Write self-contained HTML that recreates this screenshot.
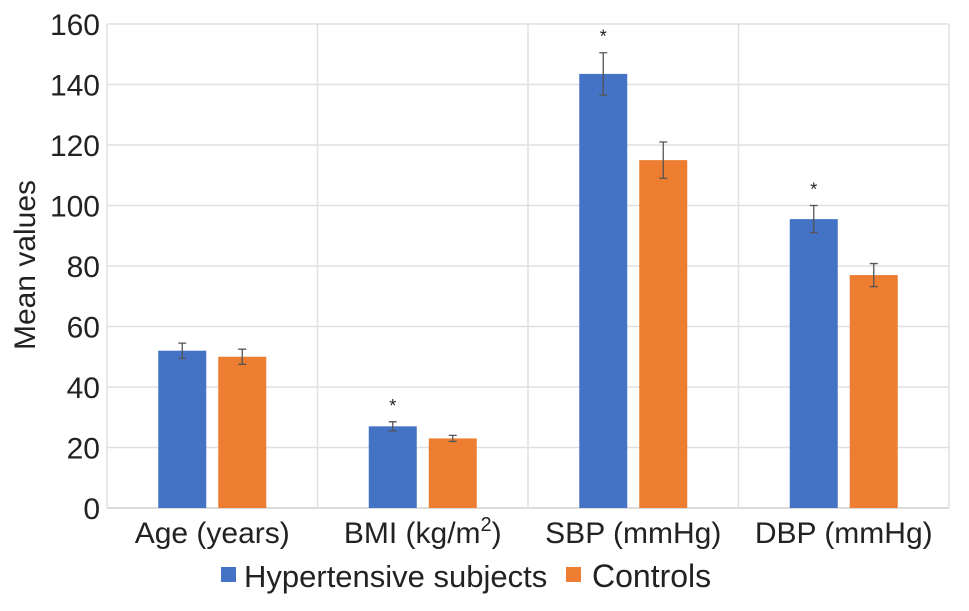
<!DOCTYPE html>
<html><head><meta charset="utf-8"><style>
body{margin:0;background:#fff}
svg text{font-family:"Liberation Sans",Arial,sans-serif;fill:#222}
</style></head><body>
<svg id="chart" width="969" height="606" xmlns="http://www.w3.org/2000/svg">
<g id="grid"></g>
<g id="bars"></g>
<g id="labels"></g>
<text transform="translate(35,265) rotate(-90)" text-anchor="middle" font-size="30">Mean values</text>
<g>
<rect x="221" y="567" width="15" height="15" fill="#4472c4"/>
<text x="244" y="587" font-size="31">Hypertensive subjects</text>
<rect x="566" y="567" width="15" height="15" fill="#ed7d31"/>
<text x="592" y="587" font-size="32">Controls</text>
</g>
</svg>
<script>
const categories=["Age (years)","BMI (kg/m2)","SBP (mmHg)","DBP (mmHg)"];
const hyper=[52,27,143.5,95.5];
const hyperErr=[2.5,1.5,7,4.5];
const controls=[50,23,115,77];
const controlsErr=[2.5,1,6,3.8];
const signif=[false,true,true,true];
const yTicks=[0,20,40,60,80,100,120,140,160];
const NS="http://www.w3.org/2000/svg";
const X0=107,X1=949,Y0=508,Y1=24,YMAX=160;
const cw=(X1-X0)/categories.length;
function y(v){return Y0-v*(Y0-Y1)/YMAX;}
function mk(tag,attrs,parent){const e=document.createElementNS(NS,tag);for(const k in attrs)e.setAttribute(k,attrs[k]);parent.appendChild(e);return e;}
const grid=document.getElementById('grid'),bars=document.getElementById('bars'),labels=document.getElementById('labels');
yTicks.forEach(t=>{
 const l=mk('line',{x1:X0,x2:X1,y1:y(t),y2:y(t),stroke:t===0?'#d0d0d0':'#e0e0e0','stroke-width':1.5},grid);
 
 
 const tx=mk('text',{x:X0-7,y:y(t)+11,'text-anchor':'end','font-size':30},labels);
 tx.textContent=t;
 
 
});
for(let i=0;i<=categories.length;i++){
 const l=mk('line',{x1:X0+i*cw,x2:X0+i*cw,y1:Y1,y2:Y0,stroke:'#e0e0e0','stroke-width':1.5},grid);
 
 
}
const bw=48,gap=12;
function bar(i,v,err,color,off,name,star){
 const cx=X0+cw*(i+0.5);
 const x=cx+off;
 const r=mk('rect',{x:x,y:y(v),width:bw,height:y(0)-y(v),fill:color},bars);
 
 
 const m=x+bw/2;
 const g=mk('path',{d:`M${m},${y(v+err)}V${y(v-err)}M${m-4},${y(v+err)}H${m+4}M${m-4},${y(v-err)}H${m+4}`,stroke:'#555','stroke-width':1.3,fill:'none'},bars);
 
 
 if(star){
  const s=mk('text',{x:m,y:y(v+err)-10,'text-anchor':'middle','font-size':18},bars);
  s.textContent='*';
  
  
 }
}
categories.forEach((c,i)=>{
 bar(i,hyper[i],hyperErr[i],'#4472c4',-gap/2-bw,'bar-hypertensive-'+i,signif[i]);
 bar(i,controls[i],controlsErr[i],'#ed7d31',gap/2,'bar-controls-'+i,false);
 const t=mk('text',{x:X0+cw*(i+0.5),y:543,'text-anchor':'middle','font-size':30},labels);
 if(c.indexOf('m2')>=0){
  t.innerHTML='BMI (kg/m<tspan dy="-12" font-size="20">2</tspan><tspan dy="12">)</tspan>';
 } else t.textContent=c;
 
 
});
</script>
</body></html>
